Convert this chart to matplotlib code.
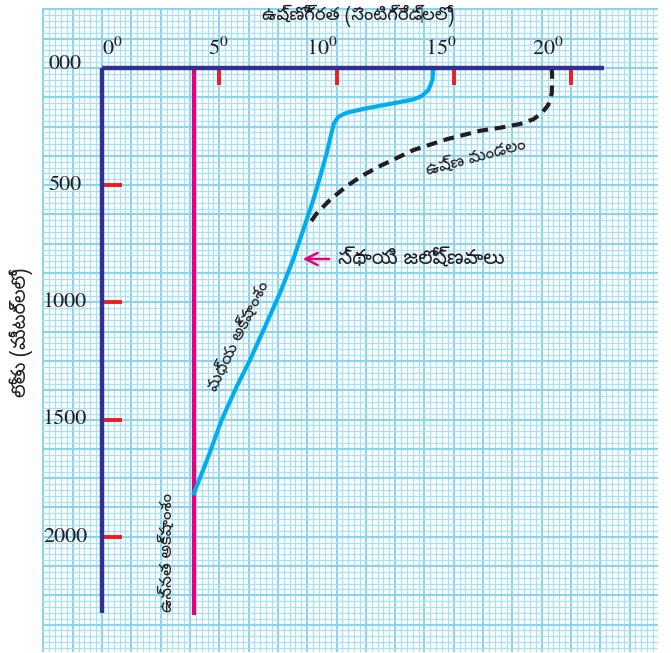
import numpy as np
import matplotlib
matplotlib.use("Agg")
import matplotlib.pyplot as plt
from matplotlib.ticker import MultipleLocator

# data
temp_ticks = [0, 5, 10, 15, 20]
temp_labels = [r'$0^{0}$', r'$5^{0}$', r'$10^{0}$', r'$15^{0}$', r'$20^{0}$']
depth_ticks = [0, 500, 1000, 1500, 2000]
depth_labels = ['000', '500', '1000', '1500', '2000']

# mid latitude profile (temperature, depth)
mid_temp = [14.13, 14.09, 13.92, 13.63, 13.28, 12.57, 11.86, 11.14, 10.43, 10.08,
            9.89, 9.80, 9.58, 9.30, 9.01, 8.58, 8.16, 7.59, 7.02, 6.31, 5.74,
            5.10, 4.53, 3.92]
mid_depth = [0, 51, 94, 120, 134, 148, 161, 175, 191, 208,
             236, 272, 364, 464, 563, 691, 815, 960, 1088, 1246, 1360,
             1502, 1659, 1815]

# tropical profile (dashed)
trop_temp = [19.18, 19.20, 19.18, 19.03, 18.75, 18.39, 17.82, 16.97, 16.12, 14.70,
             13.28, 11.86, 11.14, 10.43, 9.72, 9.16, 8.80]
trop_depth = [0, 51, 108, 158, 193, 219, 239, 255, 268, 304,
              350, 418, 457, 504, 563, 620, 670]

# high latitude (constant temperature)
high_temp = 3.92
max_depth_high = 2335

axis_temp_end = 21.4
axis_depth_end = 2325

plt.rcParams['mathtext.fontset'] = 'stix'
telugu = ['Noto Sans Telugu', 'Noto Sans', 'DejaVu Sans']

fig = plt.figure(figsize=(6.71, 6.53), dpi=100)
ax = fig.add_axes([42 / 671, 1 / 653, 616 / 671, 644 / 653])
ax.set_xlim(-2.56, 23.71)
ax.set_ylim(2492, -256)

# graph paper
ax.xaxis.set_minor_locator(MultipleLocator(0.25))
ax.xaxis.set_major_locator(MultipleLocator(1.25))
ax.yaxis.set_minor_locator(MultipleLocator(25))
ax.yaxis.set_major_locator(MultipleLocator(125))
ax.grid(which='minor', color='#a9e0f6', lw=0.9)
ax.grid(which='major', color='#8ad3f1', lw=1.5)
ax.set_axisbelow(True)
ax.tick_params(which='both', length=0, labelbottom=False, labelleft=False)
for s in ax.spines.values():
    s.set_visible(False)

# axes lines
navy = '#2e3192'
ax.plot([0, axis_temp_end], [0, 0], color=navy, lw=3.2, solid_capstyle='butt', zorder=4)
ax.plot([0, 0], [0, axis_depth_end], color=navy, lw=3.2, solid_capstyle='butt', zorder=4)

# red ticks
red = '#ed1c24'
for t in temp_ticks[1:]:
    ax.plot([t, t], [0, 72], color=red, lw=2.8, solid_capstyle='butt', zorder=3)
for d in depth_ticks[1:]:
    ax.plot([0, 0.85], [d, d], color=red, lw=2.8, solid_capstyle='butt', zorder=3)

label_shift = [0.43, -0.05, -0.62, -0.55, -1.0]
for t, lab, off in zip(temp_ticks, temp_labels, label_shift):
    ax.text(t + off, -88, lab, fontsize=16, ha='center', va='center', color='#231f20')
for d, lab in zip(depth_ticks, depth_labels):
    dd = -15 if d == 0 else d
    ax.text(-1.58, dd, lab, fontsize=16, ha='center', va='center',
            family='STIXGeneral', color='#231f20')

# profiles
ax.plot([high_temp, high_temp], [0, max_depth_high], color='#e6007e', lw=3,
        solid_capstyle='butt', zorder=3)
ax.plot(mid_temp, mid_depth, color='#00aeef', lw=3, zorder=3)
ax.plot(trop_temp, trop_depth, color='#231f20', lw=3, ls=(0, (2.6, 1.6)), zorder=3)

# labels
ax.text(10.92, -222, 'ఉష్ణోగ్రత (సెంటిగ్రేడ్‌లలో)', fontsize=13, ha='center', va='center',
        family=telugu, color='#231f20')
fig.text(21 / 671, 1 - 332 / 653, 'లోతు (మీటర్లలో)', fontsize=14, rotation=90,
         ha='center', va='center', family=telugu, color='#231f20')
ax.text(15.94, 381, 'ఉష్ణ మండలం', fontsize=12, rotation=15, ha='center', va='center',
        family=telugu, color='#231f20')
ax.text(5.84, 1144, 'మధ్య అక్షాంశం', fontsize=12, rotation=64, ha='center', va='center',
        family=telugu, color='#231f20')
ax.text(2.81, 2066, 'ఉన్నత అక్షాంశం', fontsize=12, rotation=90, ha='center', va='center',
        family=telugu, color='#231f20')
ax.annotate('', xy=(8.44, 815), xytext=(9.81, 815),
            arrowprops=dict(arrowstyle='->', color='#e6007e', lw=1.8, mutation_scale=22))
ax.text(10.06, 815, 'స్థాయి జలోష్ణవాలు', fontsize=14.5, ha='left', va='center',
        family=telugu, color='#231f20')

fig.savefig('out.png', dpi=100, facecolor='white')
